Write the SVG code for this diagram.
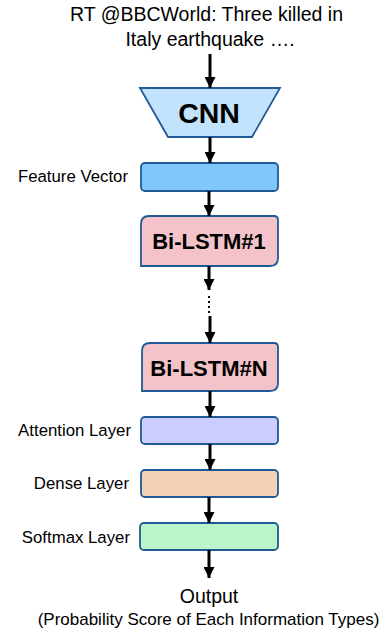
<svg xmlns="http://www.w3.org/2000/svg" width="387" height="635" viewBox="0 0 387 635">
<defs>
<marker id="ah2" markerWidth="12" markerHeight="11" refX="11" refY="5.5" orient="auto" markerUnits="userSpaceOnUse">
<path d="M0,0 L11,5.5 L0,11 Z" fill="#000"/>
</marker>
</defs>
<style>
.t{font-family:"Liberation Sans",Arial,sans-serif;fill:#000}
.lbl{font-size:16.8px;text-anchor:end}
.big{font-weight:bold;text-anchor:middle}
.box{stroke:#1f5a94;stroke-width:1.8}
.ar{stroke:#000;stroke-width:3;fill:none;marker-end:url(#ah2)}
</style>
<rect width="387" height="635" fill="#fff"/>
<g id="input">
<text class="t" x="206.5" y="21" font-size="19.5" text-anchor="middle">RT @BBCWorld: Three killed in</text>
<text class="t" x="210" y="46" font-size="19.5" text-anchor="middle">Italy earthquake ….</text>
</g>
<g id="cnn">
<path class="box" d="M140,88 L280,88 L252,137 L168,137 Z" fill="#c3e2fb"/>
<text class="t big" x="209" y="123" font-size="28.5">CNN</text>
</g>
<g id="feature">
<rect class="box" x="141" y="163" width="137" height="28" rx="4" fill="#80c7fb"/>
<text class="t lbl" x="128" y="182">Feature Vector</text>
</g>
<g id="lstm1">
<path class="box" d="M149,216 L274,216 Q278,216 278,220 L278,258 Q278,266 270,266 L141,266 L141,224 Q141,216 149,216 Z" fill="#f4c3ca"/>
<text class="t big" x="209" y="249" font-size="22">Bi-LSTM#1</text>
</g>
<g id="lstmN">
<path class="box" d="M150,343 L274,343 Q278,343 278,347 L278,383 Q278,391 270,391 L142,391 L142,351 Q142,343 150,343 Z" fill="#f4c3ca"/>
<text class="t big" x="209" y="376" font-size="22">Bi-LSTM#N</text>
</g>
<g id="attention">
<rect class="box" x="141" y="417" width="137" height="27" rx="4" fill="#ccccfe"/>
<text class="t lbl" x="131" y="436">Attention Layer</text>
</g>
<g id="dense">
<rect class="box" x="141" y="470" width="137" height="27" rx="4" fill="#f5d0b9"/>
<text class="t lbl" x="129" y="489">Dense Layer</text>
</g>
<g id="softmax">
<rect class="box" x="140" y="523" width="138" height="27" rx="4" fill="#b9f5c8"/>
<text class="t lbl" x="130" y="543">Softmax Layer</text>
</g>
<g id="output">
<text class="t" x="209" y="603" font-size="19.5" text-anchor="middle">Output</text>
<text class="t" x="208.5" y="625" font-size="17" text-anchor="middle">(Probability Score of Each Information Types)</text>
</g>
<g id="connectors">
<line class="ar" x1="210" y1="54" x2="210" y2="88"/>
<line class="ar" x1="210" y1="137" x2="210" y2="163"/>
<line class="ar" x1="209" y1="191" x2="209" y2="216"/>
<line class="ar" x1="209" y1="266" x2="209" y2="290"/>
<line x1="209" y1="296" x2="209" y2="314" stroke="#000" stroke-width="2" stroke-dasharray="2,3"/>
<line class="ar" x1="210" y1="316" x2="210" y2="343"/>
<line class="ar" x1="210" y1="391" x2="210" y2="417"/>
<line class="ar" x1="210" y1="444" x2="210" y2="470"/>
<line class="ar" x1="209" y1="497" x2="209" y2="523"/>
<line class="ar" x1="209" y1="550" x2="209" y2="578"/>
</g>
</svg>
